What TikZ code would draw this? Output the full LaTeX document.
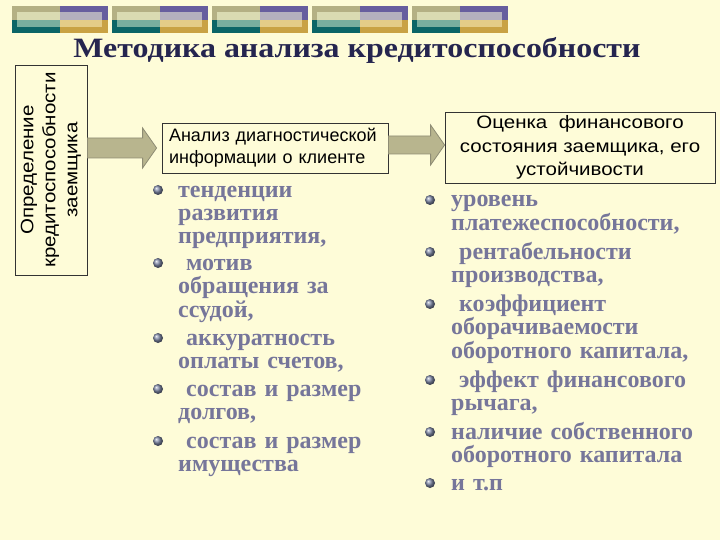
\documentclass[tikz,border=0pt]{standalone}
\usepackage{fontspec}
\setmainfont{Liberation Serif}
\newfontfamily\boxfont{Liberation Sans}
\newfontfamily\boxwidefont[FakeStretch=1.14]{Liberation Sans}
\newfontfamily\titlefont[FakeStretch=1.14]{Liberation Serif}
\usetikzlibrary{calc}
\definecolor{bgcol}{HTML}{FEFCD8}
\definecolor{titlecol}{HTML}{25254F}
\definecolor{itemcol}{HTML}{76769A}
\definecolor{arrfillcol}{HTML}{B8B58E}
\definecolor{arrdrawcol}{HTML}{8E8C74}
\definecolor{quadA}{HTML}{B4B084}
\definecolor{quadB}{HTML}{0B6566}
\definecolor{quadC}{HTML}{675E9E}
\definecolor{quadD}{HTML}{C9A244}
\definecolor{innA}{HTML}{DADBB2}
\definecolor{innB}{HTML}{78AE9E}
\definecolor{innC}{HTML}{B4B0BE}
\definecolor{innD}{HTML}{E4CC88}
\tikzset{
  infobox/.style={draw=black!80, line width=0.8pt, fill=bgcol, inner sep=0pt, font=\boxfont\fontsize{18}{22}\selectfont},
  item/.style={anchor=base west, inner sep=0pt, text width=290pt, align=left, text=itemcol, font=\bfseries\fontsize{24}{23.5}\selectfont},
  bul/.style={circle, inner sep=0pt, minimum size=10pt, shading=ball, ball color={rgb,255:red,125;green,135;blue,165}},
  blockarrow/.style={fill=arrfillcol, draw=arrdrawcol, line width=0.8pt}
}
\begin{document}
\begin{tikzpicture}[x=1pt,y=-1pt]
\useasboundingbox (0,0) rectangle (720,540);
\fill[bgcol] (0,0) rectangle (720,540);
% top decoration
\foreach \i in {0,...,4}{
  \pgfmathsetmacro\xo{12+100*\i}
  \fill[quadA] (\xo,6) rectangle (\xo+48,20);
  \fill[quadB] (\xo,20) rectangle (\xo+48,33);
  \fill[quadC] (\xo+48,6) rectangle (\xo+96,20);
  \fill[quadD] (\xo+48,20) rectangle (\xo+96,33);
  \fill[innA] (\xo+5,12) rectangle (\xo+48,20);
  \fill[innB] (\xo+5,20) rectangle (\xo+48,27);
  \fill[innC] (\xo+48,12) rectangle (\xo+90,20);
  \fill[innD] (\xo+48,20) rectangle (\xo+90,27);
}
% title
\node[anchor=base, inner sep=0pt, text=titlecol, font=\titlefont\bfseries\fontsize{28}{32}\selectfont] (title) at (357,58) {Методика анализа кредитоспособности};
% boxes
\node[infobox, rotate=90, minimum width=210pt, minimum height=72pt, align=center, font=\boxwidefont\fontsize{18}{22}\selectfont] (b1) at (51,170)
  {Определение\\кредитоспособности\\заемщика};
\node[infobox, minimum width=226pt, minimum height=50pt, align=left, text width=212pt] (b2) at (275,148)
  {Анализ диагностической\\информации о клиенте};
\node[infobox, minimum width=270pt, minimum height=71pt, align=center, font=\boxwidefont\fontsize{18}{23.5}\selectfont] (b3) at (580,147.5)
  {Оценка\ \ финансового\\состояния заемщика, его\\устойчивости};
% arrows
\coordinate (a1s) at (b1.south |- b2.west);
\coordinate (a1e) at ($(b2.west)+(-5,0)$);
\draw[blockarrow] let \p1=(a1s), \p2=(a1e) in
  (\x1,\y1-10pt) -- (\x2-14pt,\y1-10pt) -- (\x2-14pt,\y1-20pt) -- (\x2,\y1) -- (\x2-14pt,\y1+20pt) -- (\x2-14pt,\y1+10pt) -- (\x1,\y1+10pt) -- cycle;
\coordinate (a2s) at ($(b2.east)+(0,-3)$);
\coordinate (a2e) at (b3.west |- a2s);
\draw[blockarrow] let \p1=(a2s), \p2=(a2e) in
  (\x1,\y1-9pt) -- (\x2-14pt,\y1-9pt) -- (\x2-14pt,\y1-20pt) -- (\x2,\y1) -- (\x2-14pt,\y1+20pt) -- (\x2-14pt,\y1+9pt) -- (\x1,\y1+9pt) -- cycle;
% left list
\node[item] (l1) at (178,197) {тенденции\\развития\\предприятия,};
\node[item] (l2) at (178,270) {\ мотив\\обращения за\\ссудой,};
\node[item] (l3) at (178,345) {\ аккуратность\\оплаты счетов,};
\node[item] (l4) at (178,396) {\ состав и размер\\долгов,};
\node[item] (l5) at (178,448) {\ состав и размер\\имущества};
\foreach \n in {l1,l2,l3,l4,l5}
  \node[bul] at ($(\n.base west)+(-20,-7)$) {};
% right list
\node[item] (r1) at (451,207) {уровень\\платежеспособности,};
\node[item] (r2) at (451,259) {\ рентабельности\\производства,};
\node[item] (r3) at (451,311) {\ коэффициент\\оборачиваемости\\оборотного капитала,};
\node[item] (r4) at (451,387) {\ эффект финансового\\рычага,};
\node[item] (r5) at (451,439) {наличие собственного\\оборотного капитала};
\node[item] (r6) at (451,490) {и т.п};
\foreach \n in {r1,r2,r3,r4,r5,r6}
  \node[bul] at ($(\n.base west)+(-21,-7)$) {};
\end{tikzpicture}
\end{document}
